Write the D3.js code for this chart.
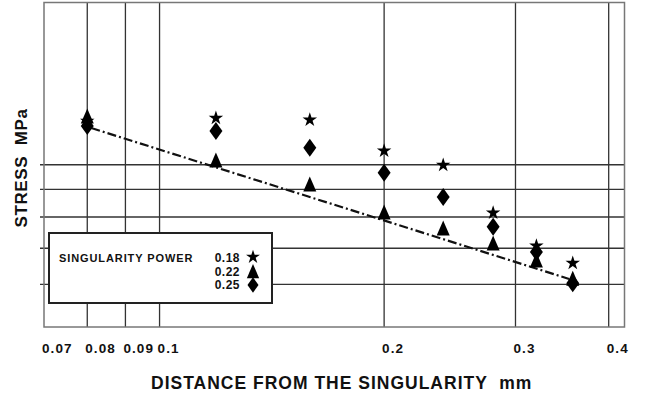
<!DOCTYPE html>
<html>
<head>
<meta charset="utf-8">
<script src="https://cdn.jsdelivr.net/npm/d3@7"></script>
<style>
  body { margin: 0; background: #fff; }
  text { font-family: "Liberation Sans", Arial, sans-serif; font-weight: bold; fill: #111; }
</style>
</head>
<body>
<svg id="chart" width="652" height="397"></svg>
<script>
// distance from the singularity (mm)
const distances = [0.08, 0.119, 0.159, 0.2, 0.24, 0.28, 0.32, 0.358];
// stress values per singularity power (no scale printed, read as log units)
const stress018 = [120.5, 122.1, 121.1, 106.1, 99.9, 81.4, 70.7, 65.7];
const stress022 = [123.2, 102.0, 92.1, 81.7, 76.3, 71.6, 66.6, 61.6];
const stress025 = [118.0, 115.5, 107.5, 96.6, 87.1, 76.7, 68.9, 60.3];
const powers = ["0.18", "0.22", "0.25"];
// dash-dot fit line end points
const fitX = [0.081, 0.354];
const fitY = [117, 61.4];
const xTicks = [0.07, 0.08, 0.09, 0.1, 0.2, 0.3, 0.4];
const xGrid = [0.08, 0.09, 0.1, 0.2, 0.3, 0.4];
const yGrid = [60, 70, 80, 90, 100];

const svg = d3.select("#chart");
const plotLeft = 44, plotRight = 624.5, plotTop = 2.5, plotBottom = 327;

const x = d3.scaleLog().domain([0.07, 0.42]).range([plotLeft, plotRight]);
const y = d3.scaleLog().domain([50, 200]).range([plotBottom, plotTop]);

svg.append("rect").attr("width", 652).attr("height", 397).attr("fill", "#fff");

// grid
svg.append("g").selectAll("line")
  .data(xGrid).enter().append("line")
  .attr("x1", d => x(d)).attr("x2", d => x(d))
  .attr("y1", plotTop).attr("y2", plotBottom)
  .attr("stroke", "#333").attr("stroke-width", 1.3);

svg.append("g").selectAll("line")
  .data(yGrid).enter().append("line")
  .attr("x1", plotLeft - 4).attr("x2", plotRight)
  .attr("y1", d => y(d)).attr("y2", d => y(d))
  .attr("stroke", "#333").attr("stroke-width", 1.3);

// frame
svg.append("rect")
  .attr("x", plotLeft).attr("y", plotTop)
  .attr("width", plotRight - plotLeft).attr("height", plotBottom - plotTop)
  .attr("fill", "none").attr("stroke", "#777").attr("stroke-width", 1.5);

// x tick labels
svg.append("g").selectAll("text")
  .data(xTicks).enter().append("text")
  .attr("x", d => x(d) - 2).attr("y", 353)
  .attr("font-size", 13.5).attr("letter-spacing", 1.1)
  .text(d => d);

// fit line
const line = d3.line().x(d => x(d[0])).y(d => y(d[1]));
svg.append("path")
  .datum(fitX.map((v, i) => [v, fitY[i]]))
  .attr("d", line)
  .attr("fill", "none").attr("stroke", "#111").attr("stroke-width", 2.2)
  .attr("stroke-dasharray", "9,3,2,3");

// marker shapes
const triangle = { draw(ctx, s) { const w = s * 6.5, h = s * 7.5;
  ctx.moveTo(0, -h); ctx.lineTo(w, h); ctx.lineTo(-w, h); ctx.closePath(); } };
const diamond = { draw(ctx, s) { const w = s * 6.5, h = s * 9;
  ctx.moveTo(0, -h); ctx.lineTo(w, 0); ctx.lineTo(0, h); ctx.lineTo(-w, 0); ctx.closePath(); } };

const symStar = d3.symbol().type(d3.symbolStar).size(65);
const symTri = d3.symbol().type(triangle).size(1);
const symDia = d3.symbol().type(diamond).size(1);

const series = [
  { values: stress018, sym: symStar },
  { values: stress022, sym: symTri },
  { values: stress025, sym: symDia }
];

series.forEach(s => {
  svg.append("g").selectAll("path")
    .data(s.values).enter().append("path")
    .attr("transform", (d, i) => `translate(${x(distances[i])},${y(d)})`)
    .attr("d", s.sym())
    .attr("fill", "#000");
});

// legend
const lg = svg.append("g");
lg.append("rect").attr("x", 49).attr("y", 233).attr("width", 223).attr("height", 70)
  .attr("fill", "#fff").attr("stroke", "#222").attr("stroke-width", 2);
lg.append("text").attr("x", 59).attr("y", 262).attr("font-size", 11)
  .attr("letter-spacing", 0.9).text("SINGULARITY POWER");
const legendSyms = [
  d3.symbol().type(d3.symbolStar).size(60),
  d3.symbol().type(triangle).size(0.95),
  d3.symbol().type(diamond).size(0.85)
];
powers.forEach((p, i) => {
  lg.append("text").attr("x", 240).attr("y", 262 + i * 13.5)
    .attr("text-anchor", "end").attr("font-size", 12).attr("letter-spacing", 0.5).text(p);
  lg.append("path").attr("transform", `translate(253,${257 + i * 14})`)
    .attr("d", legendSyms[i]()).attr("fill", "#000");
});

// axis titles
svg.append("text").attr("x", 151).attr("y", 389)
  .attr("font-size", 17.5).attr("letter-spacing", 1.0)
  .style("white-space", "pre")
  .text("DISTANCE FROM THE SINGULARITY  mm");

svg.append("text")
  .attr("transform", "translate(27,168) rotate(-90)")
  .attr("text-anchor", "middle")
  .attr("font-size", 17).attr("letter-spacing", 0.6)
  .style("white-space", "pre")
  .text("STRESS  MPa");
</script>
</body>
</html>
